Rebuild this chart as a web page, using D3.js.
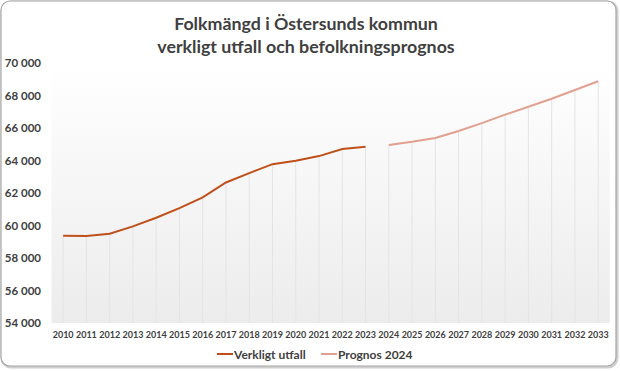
<!DOCTYPE html>
<html>
<head>
<meta charset="utf-8">
<script src="https://cdn.jsdelivr.net/npm/d3@7"></script>
<style>
  body { margin: 0; background: #fff; }
  text { font-family: Lato, "Open Sans", sans-serif; fill: #404040; font-weight: bold; }
</style>
</head>
<body>
<div id="chart"></div>
<script>
// years on the category axis
var years = ["2010","2011","2012","2013","2014","2015","2016","2017","2018","2019","2020","2021",
             "2022","2023","2024","2025","2026","2027","2028","2029","2030","2031","2032","2033"];
// actual population (verkligt utfall)
var actualYears = ["2010","2011","2012","2013","2014","2015","2016","2017","2018","2019","2020","2021","2022","2023"];
var actual = [59373, 59359, 59498, 59943, 60476, 61066, 61729, 62648, 63226, 63776, 63985, 64271, 64702, 64850];
// forecast (prognos 2024)
var forecastYears = ["2024","2025","2026","2027","2028","2029","2030","2031","2032","2033"];
var forecast = [64960, 65150, 65380, 65820, 66300, 66820, 67310, 67800, 68340, 68880];
var yTicks = [54000, 56000, 58000, 60000, 62000, 64000, 66000, 68000, 70000];

var width = 620, height = 371;
var plot = { left: 51.5, right: 609.8, top: 63, bottom: 323 };

var svg = d3.select("#chart").append("svg")
    .attr("width", width)
    .attr("height", height);

var defs = svg.append("defs");
var grad = defs.append("linearGradient")
    .attr("id", "bg")
    .attr("x1", 0).attr("y1", 0).attr("x2", 0).attr("y2", 1);
grad.append("stop").attr("offset", "0%").attr("stop-color", "#ffffff");
grad.append("stop").attr("offset", "100%").attr("stop-color", "#ececec");

// outer frame
svg.append("rect")
    .attr("x", 2).attr("y", 2)
    .attr("width", 615).attr("height", 365)
    .attr("rx", 9)
    .attr("fill", "none")
    .attr("stroke", "#d0d0d0")
    .attr("stroke-width", 3);
svg.append("rect")
    .attr("x", 1).attr("y", 1)
    .attr("width", 615).attr("height", 365)
    .attr("rx", 9)
    .attr("fill", "#fff")
    .attr("stroke", "#a6a6a6")
    .attr("stroke-width", 1.2);

var x = d3.scaleBand()
    .domain(years)
    .range([plot.left, plot.right])
    .padding(0);
var cx = function (d) { return x(d) + x.bandwidth() / 2; };

var y = d3.scaleLinear()
    .domain([54000, 70000])
    .range([plot.bottom, plot.top]);

// plot area background
svg.append("rect")
    .attr("x", plot.left).attr("y", plot.top)
    .attr("width", plot.right - plot.left)
    .attr("height", plot.bottom - plot.top)
    .attr("fill", "url(#bg)");

// title
var title = svg.append("text")
    .attr("x", 306)
    .attr("text-anchor", "middle")
    .style("font-size", "17.8px")
    .style("fill", "#404040");
title.append("tspan").attr("x", 306).attr("y", 30).text("Folkmängd i Östersunds kommun");
title.append("tspan").attr("x", 306).attr("y", 53).text("verkligt utfall och befolkningsprognos");

var actualData = actualYears.map(function (d, i) { return { year: d, value: actual[i] }; });
var forecastData = forecastYears.map(function (d, i) { return { year: d, value: forecast[i] }; });

// drop lines
svg.append("g").selectAll("line")
    .data(actualData.concat(forecastData))
    .enter().append("line")
    .attr("x1", function (d) { return cx(d.year); })
    .attr("x2", function (d) { return cx(d.year); })
    .attr("y1", function (d) { return y(d.value); })
    .attr("y2", y(54000))
    .attr("stroke", "#e4e4e4")
    .attr("stroke-width", 1);

var line = d3.line()
    .x(function (d) { return cx(d.year); })
    .y(function (d) { return y(d.value); });

svg.append("path")
    .datum(actualData)
    .attr("d", line)
    .attr("fill", "none")
    .attr("stroke", "#c0501a")
    .attr("stroke-width", 2);

svg.append("path")
    .datum(forecastData)
    .attr("d", line)
    .attr("fill", "none")
    .attr("stroke", "#e2a090")
    .attr("stroke-width", 2);

// y axis labels
var yAxis = svg.append("g")
    .attr("transform", "translate(41,0)")
    .call(d3.axisLeft(y).tickValues(yTicks).tickSize(0).tickPadding(0)
        .tickFormat(function (d) { return d3.format(",")(d).replace(",", " "); }));
yAxis.select(".domain").remove();
yAxis.selectAll("text")
    .style("font-size", "11.5px")
    .style("font-family", "Lato, sans-serif")
    .attr("fill", "#404040");

// x axis labels
var xAxis = svg.append("g")
    .attr("transform", "translate(0," + plot.bottom + ")")
    .call(d3.axisBottom(x).tickSize(0).tickPadding(9));
xAxis.select(".domain").remove();
xAxis.selectAll("text")
    .style("font-size", "9px")
    .style("font-family", "Lato, sans-serif")
    .attr("fill", "#404040");

// legend
var legend = svg.append("g");
var items = [
    { label: "Verkligt utfall", color: "#c0501a", x: 217 },
    { label: "Prognos 2024", color: "#e2a090", x: 321 }
];
items.forEach(function (it) {
    legend.append("line")
        .attr("x1", it.x).attr("x2", it.x + 16)
        .attr("y1", 354).attr("y2", 354)
        .attr("stroke", it.color)
        .attr("stroke-width", 2);
    legend.append("text")
        .attr("x", it.x + 17)
        .attr("y", 358.5)
        .style("font-size", "12px")
        .text(it.label);
});
</script>
</body>
</html>
